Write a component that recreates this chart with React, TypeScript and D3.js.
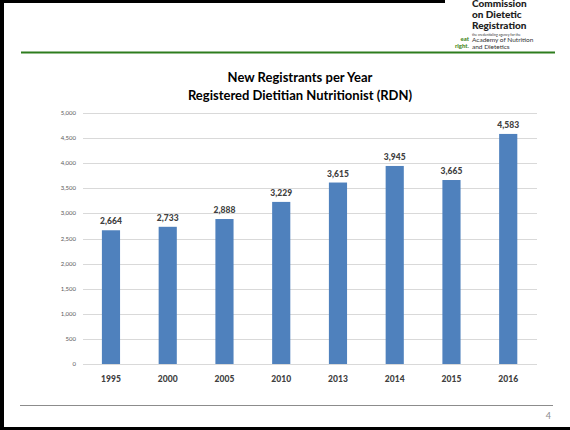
import { useEffect, useRef } from 'react'
import * as d3 from 'd3'

const years = ['1995', '2000', '2005', '2010', '2013', '2014', '2015', '2016']
const registrants = [2664, 2733, 2888, 3229, 3615, 3945, 3665, 4583]
const yTicks = [0, 500, 1000, 1500, 2000, 2500, 3000, 3500, 4000, 4500, 5000]

const W = 570
const H = 430

export default function App() {
  const svgRef = useRef<SVGSVGElement>(null)

  useEffect(() => {
    const svg = d3.select(svgRef.current)
    svg.selectAll('*').remove()
    const font = 'Lato, "Open Sans", sans-serif'

    svg.append('rect').attr('width', W).attr('height', H).attr('fill', '#fff')

    // slide frame
    svg.append('rect').attr('x', 0).attr('y', 0).attr('width', 4).attr('height', H).attr('fill', '#000')
    svg.append('rect').attr('x', 0).attr('y', 0).attr('width', 445).attr('height', 3).attr('fill', '#000')
    svg.append('rect').attr('x', 0).attr('y', 427).attr('width', W).attr('height', 3).attr('fill', '#000')

    svg.append('line').attr('x1', 21).attr('x2', 555).attr('y1', 52.5).attr('y2', 52.5)
      .attr('stroke', '#2e7d1e').attr('stroke-width', 2)
    svg.append('line').attr('x1', 20).attr('x2', 553).attr('y1', 405.5).attr('y2', 405.5)
      .attr('stroke', '#8c8c8c').attr('stroke-width', 1)
    svg.append('text').attr('x', 551).attr('y', 419).attr('text-anchor', 'end')
      .style('font-family', font).style('font-size', '9px').attr('fill', '#8c8c8c').text('4')

    // logo
    const logo = svg.append('g').style('font-family', font)
    ;['Commission', 'on Dietetic', 'Registration'].forEach((t, i) => {
      logo.append('text').attr('x', 472).attr('y', 7 + i * 11).style('font-size', '10px')
        .style('font-weight', 900).attr('fill', '#222').text(t)
    })
    logo.append('text').attr('x', 472).attr('y', 36).style('font-size', '3.5px').attr('fill', '#333')
      .text('the credentialing agency for the')
    logo.append('text').attr('x', 472).attr('y', 42).style('font-size', '6.5px').attr('fill', '#333')
      .text('Academy of Nutrition')
    logo.append('text').attr('x', 472).attr('y', 48.5).style('font-size', '6.5px').attr('fill', '#333')
      .text('and Dietetics')
    logo.append('text').attr('x', 469).attr('y', 41).attr('text-anchor', 'end').style('font-size', '6px')
      .style('font-weight', 900).attr('fill', '#4a8a2a').text('eat')
    logo.append('text').attr('x', 469).attr('y', 48).attr('text-anchor', 'end').style('font-size', '6px')
      .style('font-weight', 900).attr('fill', '#4a8a2a').text('right.')

    // title
    const title = svg.append('g').style('font-family', font).style('font-weight', 700)
      .style('font-size', '13px').attr('fill', '#000').attr('text-anchor', 'middle')
    title.append('text').attr('x', 300).attr('y', 82).text('New Registrants per Year')
    title.append('text').attr('x', 300).attr('y', 100).text('Registered Dietitian Nutritionist (RDN)')

    const x = d3.scaleBand().domain(years).range([82.6, 536.6]).paddingInner(0.68).paddingOuter(0.34)
    const y = d3.scaleLinear().domain([0, 5000]).range([364, 113])

    const g = svg.append('g')
    g.selectAll('line.grid').data(yTicks).join('line')
      .attr('x1', 83).attr('x2', 537)
      .attr('y1', d => Math.round(y(d)) + 0.5).attr('y2', d => Math.round(y(d)) + 0.5)
      .attr('stroke', '#d9d9d9').attr('stroke-width', 1)

    g.selectAll('text.ytick').data(yTicks).join('text')
      .attr('x', 76).attr('y', d => y(d) + 2)
      .attr('text-anchor', 'end').style('font-family', font).style('font-size', '6px')
      .attr('fill', '#595959').text(d => d3.format(',')(d))

    g.selectAll('rect.bar').data(registrants).join('rect')
      .attr('x', (_, i) => x(years[i])!).attr('width', x.bandwidth())
      .attr('y', d => y(d)).attr('height', d => y(0) - y(d))
      .attr('fill', '#4f81bd')

    g.selectAll('text.val').data(registrants).join('text')
      .attr('x', (_, i) => x(years[i])! + x.bandwidth() / 2).attr('y', d => y(d) - 6)
      .attr('text-anchor', 'middle').style('font-family', font).style('font-size', '8.5px')
      .style('font-weight', 900).attr('fill', '#404040').text(d => d3.format(',')(d))

    g.selectAll('text.cat').data(years).join('text')
      .attr('x', d => x(d)! + x.bandwidth() / 2).attr('y', 382)
      .attr('text-anchor', 'middle').style('font-family', font).style('font-size', '8.5px')
      .style('font-weight', 900).attr('fill', '#404040').text(d => d)
  }, [])

  return (
    <svg ref={svgRef} width={W} height={H}
      style={{ position: 'absolute', left: 0, top: 0, display: 'block' }} />
  )
}
